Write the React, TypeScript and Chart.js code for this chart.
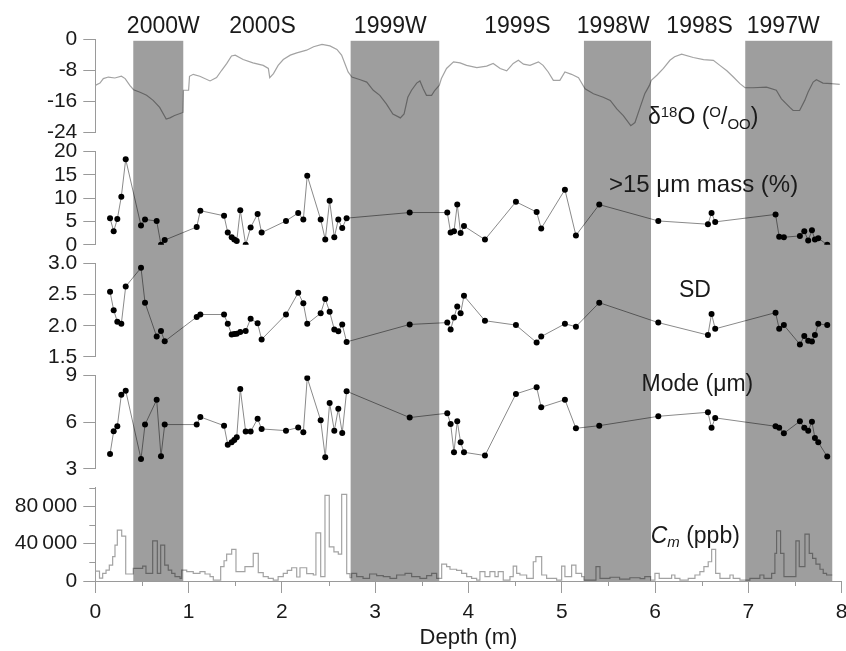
import React, { useEffect, useRef } from 'react';
import { Chart, registerables } from 'chart.js';

Chart.register(...registerables);

// ---------------- DATA ----------------
const seasonLabels = ['2000W', '2000S', '1999W', '1999S', '1998W', '1998S', '1997W'];
const seasonCenters = [0.729, 1.792, 3.162, 4.525, 5.552, 6.478, 7.374];
const winterBands: [number, number][] = [
  [0.407, 0.943],
  [2.737, 3.687],
  [5.238, 5.957],
  [6.967, 7.9],
];

// tick values
const depthTicks = [0, 1, 2, 3, 4, 5, 6, 7, 8];
const d18oTicks = [-24, -16, -8, 0];
const massTicks = [0, 5, 10, 15, 20];
const sdTicks = [1.5, 2.0, 2.5, 3.0];
const modeTicks = [3, 6, 9];
const cmTicks = [0, 40000, 80000];

const sampleDepth = [
  0.158, 0.197, 0.236, 0.279, 0.326, 0.49, 0.533, 0.658, 0.704, 0.744,
  1.087, 1.126, 1.38, 1.42, 1.462, 1.49, 1.516, 1.554, 1.612, 1.665,
  1.74, 1.783, 2.044, 2.175, 2.23, 2.272, 2.416, 2.465, 2.512, 2.562,
  2.605, 2.647, 2.694, 3.37, 3.773, 3.809, 3.845, 3.88, 3.916, 3.952,
  4.177, 4.509, 4.731, 4.78, 5.034, 5.152, 5.402, 6.035, 6.567, 6.606,
  6.645, 7.292, 7.331, 7.381, 7.553, 7.6, 7.642, 7.682, 7.714, 7.75, 7.846,
];
const massPct = [
  5.7, 2.9, 5.5, 10.3, 18.3, 4.1, 5.4, 5.1, 0.0, 1.0,
  3.8, 7.3, 6.2, 2.6, 1.6, 1.1, 0.8, 7.4, 0.0, 3.7,
  6.6, 2.6, 5.1, 6.8, 5.4, 14.8, 5.4, 1.1, 9.4, 1.6,
  5.4, 3.6, 5.7, 6.9, 6.9, 2.6, 2.9, 8.6, 2.5, 4.0,
  1.1, 9.2, 7.0, 3.5, 11.8, 2.0, 8.6, 5.1, 4.4, 6.8,
  4.9, 6.5, 1.7, 1.6, 1.9, 2.9, 0.9, 3.1, 1.1, 1.4, 0.0,
];
const sdValues = [
  2.545, 2.25, 2.065, 2.03, 2.63, 2.93, 2.37, 1.825, 1.915, 1.75,
  2.14, 2.18, 2.18, 2.03, 1.86, 1.865, 1.87, 1.9, 1.915, 2.11,
  2.04, 1.78, 2.18, 2.53, 2.36, 2.03, 2.2, 2.43, 2.225, 1.94,
  1.91, 2.02, 1.74, 2.02, 2.05, 1.94, 2.13, 2.31, 2.2, 2.48,
  2.08, 2.01, 1.73, 1.825, 2.03, 1.985, 2.37, 2.05, 1.85, 2.19,
  1.95, 2.21, 1.95, 2.01, 1.7, 1.835, 1.76, 1.745, 1.85, 2.03, 2.01,
];
const modeValues = [
  3.96, 5.42, 5.74, 7.76, 8.03, 3.64, 5.85, 7.44, 3.81, 5.85,
  5.85, 6.34, 5.78, 4.56, 4.71, 4.86, 5.03, 8.14, 5.4, 5.4,
  6.22, 5.57, 5.46, 5.66, 5.35, 8.85, 6.12, 3.75, 7.24, 5.46,
  6.86, 5.31, 7.99, 6.3, 6.58, 5.89, 4.07, 6.06, 4.71, 4.07,
  3.86, 7.82, 8.25, 6.96, 7.45, 5.61, 5.78, 6.38, 6.64, 5.64,
  6.28, 5.74, 5.64, 5.29, 6.06, 5.64, 5.46, 6.03, 4.99, 4.71, 3.79,
];

const d18oDepth = [
  0.0, 0.05, 0.086, 0.14, 0.21, 0.28, 0.32, 0.37, 0.41, 0.48,
  0.55, 0.62, 0.69, 0.76, 0.8, 0.85, 0.94, 0.945, 1.0, 1.01,
  1.05, 1.12, 1.23, 1.3, 1.355, 1.41, 1.46, 1.5, 1.585, 1.69,
  1.8, 1.855, 1.87, 1.91, 1.96, 2.015, 2.09, 2.16, 2.265, 2.34,
  2.43, 2.515, 2.59, 2.64, 2.675, 2.71, 2.75, 2.84, 2.91, 2.98,
  3.05, 3.12, 3.19, 3.27, 3.31, 3.35, 3.39, 3.445, 3.48, 3.515,
  3.55, 3.605, 3.64, 3.687, 3.71, 3.765, 3.84, 3.91, 3.98, 4.09,
  4.195, 4.265, 4.34, 4.41, 4.48, 4.535, 4.59, 4.66, 4.75, 4.8,
  4.855, 4.91, 4.98, 5.034, 5.105, 5.18, 5.25, 5.34, 5.445, 5.52,
  5.59, 5.66, 5.74, 5.785, 5.84, 5.89, 5.94, 5.96, 6.02, 6.09,
  6.16, 6.21, 6.285, 6.41, 6.52, 6.625, 6.695, 6.77, 6.84, 6.91,
  6.965, 7.05, 7.195, 7.3, 7.355, 7.445, 7.48, 7.55, 7.605, 7.64,
  7.695, 7.73, 7.8, 7.89, 7.98,
];
const d18oValues = [
  -11.85, -11.25, -10.1, -9.7, -9.95, -9.5, -10.1, -11.85, -12.97, -13.6,
  -14.4, -15.7, -17.5, -20.5, -20.2, -19.6, -18.8, -13.1, -13.1, -9.5,
  -9.0, -9.5, -10.7, -9.85, -7.96, -6.2, -4.3, -4.07, -5.2, -6.06,
  -6.7, -7.5, -9.85, -8.8, -6.7, -5.2, -4.07, -3.5, -2.8, -1.9,
  -1.3, -1.7, -2.6, -4.07, -6.2, -8.4, -9.7, -10.4, -11.0, -13.1,
  -14.4, -16.6, -19.2, -20.2, -19.2, -14.9, -13.1, -11.25, -10.7, -12.7,
  -14.4, -14.4, -13.1, -11.85, -10.1, -7.5, -5.8, -6.06, -6.7, -7.3,
  -6.9, -6.2, -7.5, -8.1, -6.2, -5.4, -6.4, -6.7, -5.8, -6.7,
  -8.4, -10.55, -10.55, -8.4, -9.0, -9.85, -12.7, -14.0, -14.9, -15.7,
  -17.9, -19.6, -22.2, -21.4, -17.5, -14.0, -11.85, -10.55, -9.25, -7.5,
  -5.4, -4.5, -3.8, -4.67, -5.2, -5.4, -6.7, -8.1, -9.7, -11.4,
  -12.45, -12.45, -12.3, -13.1, -15.3, -17.5, -18.3, -18.3, -15.7, -13.6,
  -11.0, -10.4, -11.25, -11.4, -11.6,
];

const cmDepth = [
  0.0, 0.045, 0.079, 0.115, 0.15, 0.186, 0.211, 0.236, 0.283, 0.326,
  0.407, 0.508, 0.543, 0.615, 0.665, 0.701, 0.744, 0.782, 0.819, 0.854,
  0.908, 0.926, 0.98, 1.05, 1.122, 1.176, 1.23, 1.265, 1.344, 1.38,
  1.408, 1.462, 1.508, 1.604, 1.693, 1.747, 1.8, 1.854, 1.908, 1.96,
  2.015, 2.058, 2.105, 2.159, 2.194, 2.266, 2.337, 2.365, 2.416, 2.462,
  2.508, 2.558, 2.605, 2.641, 2.695, 2.73, 2.748, 2.802, 2.87, 2.94,
  3.016, 3.087, 3.159, 3.23, 3.32, 3.391, 3.48, 3.552, 3.606, 3.659,
  3.713, 3.766, 3.802, 3.873, 3.927, 3.981, 4.034, 4.088, 4.123, 4.177,
  4.23, 4.284, 4.319, 4.373, 4.445, 4.48, 4.517, 4.552, 4.624, 4.695,
  4.723, 4.785, 4.838, 4.945, 4.999, 5.034, 5.106, 5.152, 5.213, 5.238,
  5.367, 5.41, 5.517, 5.62, 5.73, 5.84, 5.89, 5.953, 5.999, 6.045,
  6.178, 6.213, 6.267, 6.356, 6.428, 6.481, 6.524, 6.57, 6.607, 6.65,
  6.696, 6.803, 6.838, 6.91, 7.017, 7.124, 7.167, 7.25, 7.285, 7.303,
  7.346, 7.382, 7.51, 7.546, 7.607, 7.653, 7.689, 7.725, 7.768, 7.803,
  7.839, 7.9,
];
const cmValues = [
  10500, 3000, 8200, 11700, 17000, 26000, 38400, 54400, 48000, 7500,
  13500, 16000, 8200, 43000, 8200, 38400, 17000, 11700, 8200, 4600,
  2800, 11700, 10000, 8200, 10000, 7500, 4600, 1000, 15300, 21700,
  28800, 33800, 10000, 15300, 29500, 8900, 4600, 2800, 1000, 4600,
  8200, 11400, 14200, 4300, 14200, 8000, 6400, 51500, 4600, 91700,
  36600, 31300, 28800, 92800, 8000, 3500, 8200, 4600, 2800, 7500,
  5700, 4600, 2800, 6400, 8200, 4600, 2800, 5700, 8200, 2800,
  18100, 15300, 12600, 11400, 8200, 4600, 2800, 1000, 10000, 4600,
  10000, 4600, 10000, 1000, 4600, 16000, 8200, 6400, 2800, 20600,
  26000, 6400, 2800, 1000, 16000, 4600, 17000, 8200, 4600, 1000,
  15300, 2800, 4000, 2000, 3500, 2500, 4600, 1000, 8200, 2800,
  6400, 2800, 1000, 2800, 6400, 10000, 15300, 20600, 33800, 8200,
  2800, 6400, 2800, 1000, 2800, 6400, 2800, 8200, 29500, 53700,
  29500, 4600, 43000, 15300, 50100, 29500, 24300, 18100, 12600, 8200,
  6400, 6400,
];

// ---------------- STYLE ----------------
const FONT = "'Liberation Sans', Arial, Helvetica, sans-serif";
const AXIS = '#9a9a9a';
const TEXT = '#1a1a1a';
const PANEL_W = 93.3;
const GAP_W = 18.7;

const pts = (xs: number[], ys: number[]) => xs.map((x, i) => ({ x, y: ys[i] }));

const fixLeft = (s: any) => {
  s.width = 95.3;
  s.paddingTop = 0;
  s.paddingBottom = 0;
};

function panelAxis(min: number, max: number, tickVals: number[], weight: number, callback?: (v: number) => string) {
  return {
    type: 'linear',
    position: 'left',
    stack: 'left',
    stackWeight: PANEL_W,
    weight,
    min,
    max,
    afterBuildTicks: (scale: any) => {
      scale.ticks = tickVals.map((v) => ({ value: v }));
    },
    ticks: {
      autoSkip: false,
      font: { family: FONT, size: 21 },
      color: TEXT,
      padding: 6,
      ...(callback ? { callback: (v: any) => callback(Number(v)) } : {}),
    },
    grid: { drawOnChartArea: false, drawTicks: true, tickLength: 12, color: AXIS, tickColor: AXIS },
    border: { display: true, color: AXIS, width: 1 },
    afterFit: fixLeft,
  };
}
function gapAxis(weight: number) {
  return {
    type: 'linear',
    position: 'left',
    stack: 'left',
    stackWeight: GAP_W,
    weight,
    display: false,
    afterFit: fixLeft,
  };
}

type Seg = { t: string; s: number; dy?: number; it?: boolean };
function drawRich(ctx: CanvasRenderingContext2D, x: number, y: number, segs: Seg[]) {
  let cx = x;
  for (const g of segs) {
    ctx.font = `${g.it ? 'italic ' : ''}${g.s}px ${FONT}`;
    ctx.fillText(g.t, cx, y + (g.dy || 0));
    cx += ctx.measureText(g.t).width;
  }
}

const bandPlugin = {
  id: 'winterBands',
  afterDatasetsDraw(chart: any) {
    const { ctx, chartArea, scales } = chart;
    const x = scales.x;
    ctx.save();
    ctx.fillStyle = 'rgba(0,0,0,0.38)';
    for (const [a, b] of winterBands) {
      const x0 = x.getPixelForValue(a);
      const x1 = x.getPixelForValue(b);
      ctx.fillRect(x0, chartArea.top + 1.5, x1 - x0, chartArea.bottom - chartArea.top - 1.5);
    }
    ctx.restore();
  },
};

const annotPlugin = {
  id: 'annot',
  afterDraw(chart: any) {
    const { ctx, chartArea, scales } = chart;
    const x = scales.x;
    ctx.save();
    // minor ticks
    ctx.strokeStyle = AXIS;
    ctx.lineWidth = 1;
    ctx.beginPath();
    for (let i = 0; i < depthTicks.length - 1; i++) {
      const v = (depthTicks[i] + depthTicks[i + 1]) / 2;
      const px = Math.round(x.getPixelForValue(v)) + 0.5;
      ctx.moveTo(px, chartArea.bottom);
      ctx.lineTo(px, chartArea.bottom + 5);
    }
    for (const v of [20000, 60000, 100000]) {
      const py = Math.round(scales.yC.getPixelForValue(v)) + 0.5;
      ctx.moveTo(chartArea.left - 6, py);
      ctx.lineTo(chartArea.left, py);
    }
    ctx.stroke();

    ctx.fillStyle = TEXT;
    ctx.textBaseline = 'alphabetic';
    // season labels
    ctx.textAlign = 'center';
    ctx.font = `23px ${FONT}`;
    seasonLabels.forEach((lab, i) => {
      ctx.fillText(lab, x.getPixelForValue(seasonCenters[i]), chartArea.top - 6);
    });
    ctx.textAlign = 'left';
    // panel labels
    drawRich(ctx, x.getPixelForValue(5.924), scales.yD.getPixelForValue(-21.7), [
      { t: 'δ', s: 23 },
      { t: '18', s: 15, dy: -7 },
      { t: 'O (', s: 23 },
      { t: 'O', s: 15, dy: -7 },
      { t: '/', s: 23 },
      { t: 'OO', s: 15, dy: 5 },
      { t: ')', s: 23 },
    ]);
    drawRich(ctx, x.getPixelForValue(5.506), scales.yM.getPixelForValue(11.4), [
      { t: '>15 μm mass (%)', s: 24 },
    ]);
    drawRich(ctx, x.getPixelForValue(6.257), scales.yS.getPixelForValue(2.46), [{ t: 'SD', s: 23 }]);
    drawRich(ctx, x.getPixelForValue(5.856), scales.yO.getPixelForValue(8.03), [
      { t: 'Mode (μm)', s: 23 },
    ]);
    drawRich(ctx, x.getPixelForValue(5.953), scales.yC.getPixelForValue(40200), [
      { t: 'C', s: 23, it: true },
      { t: 'm', s: 15, it: true, dy: 4 },
      { t: ' (ppb)', s: 23 },
    ]);
    ctx.restore();
  },
};

const fmtThousands = (v: number) =>
  String(Math.round(v)).replace(/\B(?=(\d{3})+(?!\d))/g, '\u2009');

export default function App() {
  const ref = useRef<HTMLCanvasElement | null>(null);

  useEffect(() => {
    if (!ref.current) return;
    const dotLine = {
      borderColor: '#8a8a8a',
      borderWidth: 1,
      pointRadius: 3,
      pointBackgroundColor: '#000',
      pointBorderColor: '#000',
      pointBorderWidth: 0,
      tension: 0,
    };
    const chart = new Chart(ref.current, {
      type: 'line',
      data: {
        datasets: [
          {
            label: 'δ18O',
            data: pts(d18oDepth, d18oValues),
            yAxisID: 'yD',
            borderColor: '#a3a3a3',
            borderWidth: 1.2,
            pointRadius: 0,
            tension: 0,
          },
          { label: '>15 μm mass', data: pts(sampleDepth, massPct), yAxisID: 'yM', ...dotLine },
          { label: 'SD', data: pts(sampleDepth, sdValues), yAxisID: 'yS', ...dotLine },
          { label: 'Mode', data: pts(sampleDepth, modeValues), yAxisID: 'yO', ...dotLine },
          {
            label: 'Cm',
            data: pts(cmDepth, cmValues),
            yAxisID: 'yC',
            borderColor: '#a3a3a3',
            borderWidth: 1.2,
            pointRadius: 0,
            stepped: true,
          },
        ],
      } as any,
      options: {
        animation: false,
        responsive: false,
        maintainAspectRatio: false,
        layout: { padding: { top: 39.3, left: 0, right: 4.4, bottom: 0 } },
        plugins: { legend: { display: false }, tooltip: { enabled: false } },
        scales: {
          x: {
            type: 'linear',
            position: 'bottom',
            min: 0,
            max: 8,
            afterBuildTicks: (scale: any) => {
              scale.ticks = depthTicks.map((v) => ({ value: v }));
            },
            ticks: {
              font: { family: FONT, size: 21 },
              color: TEXT,
              padding: 7,
              maxRotation: 0,
              autoSkip: false,
            },
            grid: { drawOnChartArea: false, tickLength: 12, color: AXIS, tickColor: AXIS },
            border: { color: AXIS, width: 1 },
            title: {
              display: true,
              text: 'Depth (m)',
              font: { family: FONT, size: 22 },
              color: TEXT,
              padding: { top: 0, bottom: 0 },
            },
            afterFit: (s: any) => {
              s.height = 70;
              s.paddingLeft = 0;
              s.paddingRight = 0;
            },
          },
          yC: panelAxis(0, 100000, cmTicks, 1, fmtThousands),
          g1: gapAxis(2),
          yO: panelAxis(3, 9, modeTicks, 3),
          g2: gapAxis(4),
          yS: panelAxis(1.5, 3.0, sdTicks, 5, (v) => v.toFixed(1)),
          g3: gapAxis(6),
          yM: panelAxis(0, 20, massTicks, 7),
          g4: gapAxis(8),
          yD: panelAxis(-24, 0, d18oTicks, 9),
        } as any,
      },
      plugins: [bandPlugin, annotPlugin],
    });
    return () => chart.destroy();
  }, []);

  return (
    <div style={{ position: 'fixed', left: 0, top: 0, width: 846, height: 651, background: '#fff' }}>
      <canvas ref={ref} width={846} height={651} style={{ width: 846, height: 651, display: 'block' }} />
    </div>
  );
}
